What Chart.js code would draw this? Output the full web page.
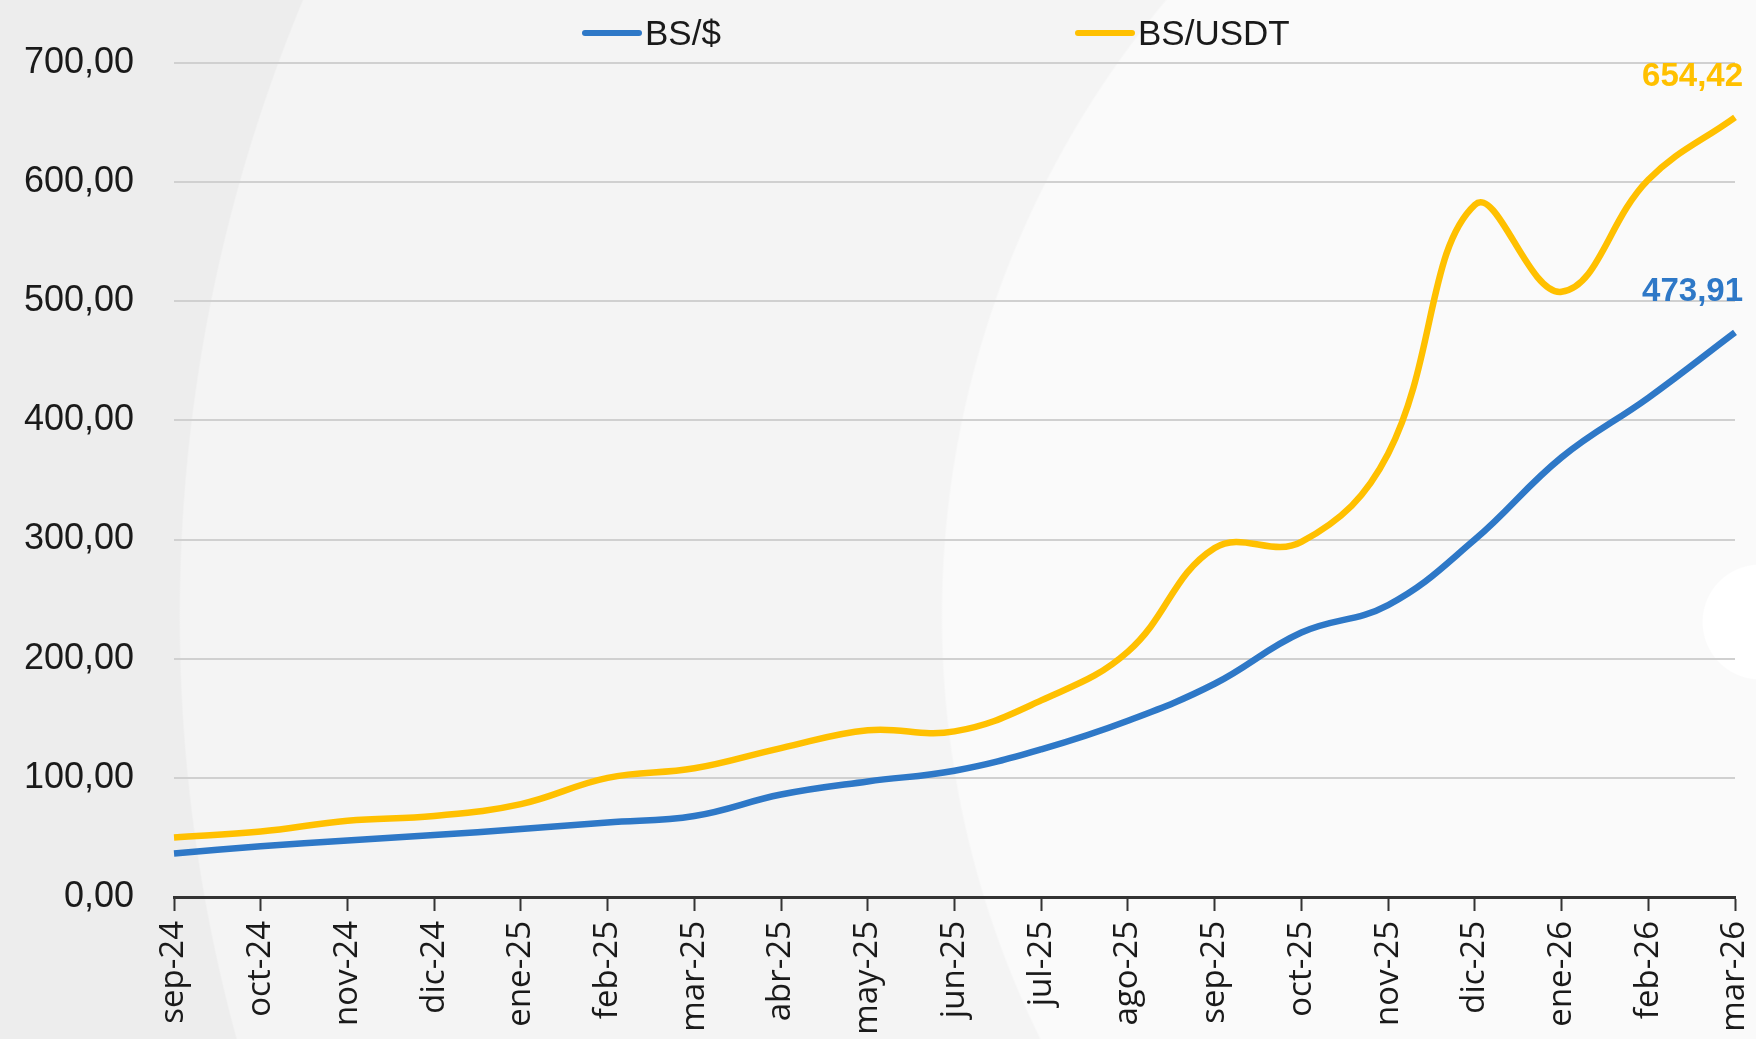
<!DOCTYPE html>
<html>
<head>
<meta charset="utf-8">
<script src="https://cdn.jsdelivr.net/npm/chart.js@4.4.1/dist/chart.umd.min.js"></script>
<style>
  html, body {
    margin: 0;
    padding: 0;
    width: 1756px;
    height: 1039px;
    overflow: hidden;
    background-color: #ededed;
    background-image:
      radial-gradient(circle 58px at 1760px 622px, #ffffff 98%, rgba(255,255,255,0) 100%),
      radial-gradient(circle 959px at 1900px 616px, #fafafa 99.8%, rgba(250,250,250,0) 100%),
      radial-gradient(circle 1602px at 1781px 616px, #f4f4f4 99.9%, rgba(244,244,244,0) 100%);
    background-repeat: no-repeat;
  }
  #wrap {
    position: relative;
    width: 1756px;
    height: 1100px;
  }
  .legend-item {
    position: absolute;
    top: 13px;
    font-family: "Liberation Sans", sans-serif;
    font-size: 35px;
    color: #1a1a1a;
    display: flex;
    align-items: center;
  }
  .legend-item span.swatch {
    display: inline-block;
    width: 60px;
    height: 6px;
    border-radius: 3px;
    margin-right: 3px;
  }
</style>
</head>
<body>
<div id="wrap">
  <canvas id="rateChart"></canvas>
  <div class="legend-item" style="left:582px"><span class="swatch" style="background:#2E78C7"></span>BS/$</div>
  <div class="legend-item" style="left:1075px"><span class="swatch" style="background:#FFC000"></span>BS/USDT</div>
</div>
<script>
const months = ['sep-24','oct-24','nov-24','dic-24','ene-25','feb-25','mar-25','abr-25','may-25',
  'jun-25','jul-25','ago-25','sep-25','oct-25','nov-25','dic-25','ene-26','feb-26','mar-26'];

// tipo de cambio oficial
const bsDolar = [36.6, 42.5, 47.5, 52, 57, 62.5, 68, 86, 97, 106, 124, 148, 179, 222, 245, 300, 369, 419, 473.91];
// tipo de cambio USDT
const bsUsdt = [50, 55, 64, 68, 78, 100, 108, 125, 140, 139, 165, 206, 293, 298, 372, 581, 508, 602, 654.42];

const yTicks = [0, 100, 200, 300, 400, 500, 600, 700];

const fmt = v => v.toFixed(2).replace('.', ',');

// last value labels
const lastLabels = {
  id: 'lastLabels',
  afterDatasetsDraw(chart) {
    const ctx = chart.ctx;
    ctx.save();
    ctx.font = 'bold 33px "Liberation Sans", sans-serif';
    ctx.textAlign = 'right';
    ctx.textBaseline = 'middle';
    chart.data.datasets.forEach((ds, i) => {
      const meta = chart.getDatasetMeta(i);
      const pt = meta.data[meta.data.length - 1];
      ctx.fillStyle = ds.borderColor;
      ctx.fillText(fmt(ds.data[ds.data.length - 1]), chart.chartArea.right + 8, pt.y - 40);
    });
    ctx.restore();
  }
};

const data = {
  labels: months,
  datasets: [
    {
      label: 'BS/$',
      data: bsDolar,
      borderColor: '#2E78C7',
      borderWidth: 6.5,
      pointRadius: 0,
      tension: 0.4,
      fill: false
    },
    {
      label: 'BS/USDT',
      data: bsUsdt,
      borderColor: '#FFC000',
      borderWidth: 6.5,
      pointRadius: 0,
      tension: 0.4,
      fill: false
    }
  ]
};

const config = {
  type: 'line',
  data: data,
  options: {
    responsive: false,
    animation: false,
    layout: { padding: { left: 0, right: 21, top: 63, bottom: 0 } },
    plugins: {
      legend: { display: false },
      tooltip: { enabled: false }
    },
    scales: {
      x: {
        offset: false,
        grid: {
          drawOnChartArea: false,
          drawTicks: true,
          tickLength: 14,
          tickWidth: 2,
          tickColor: '#333'
        },
        border: { color: '#333', width: 3 },
        ticks: {
          minRotation: 90,
          maxRotation: 90,
          padding: 10,
          color: '#1a1a1a',
          font: { family: '"Open Sans", sans-serif', size: 33 }
        },
        afterFit(scale) {
          scale.height = 1100 - 897;
          scale.paddingLeft = 0;
          scale.paddingRight = 0;
        }
      },
      y: {
        min: 0,
        max: 700,
        afterBuildTicks(scale) { scale.ticks = yTicks.map(v => ({ value: v })); },
        grid: { color: '#d0d0d0', lineWidth: 2, drawTicks: false },
        border: { display: false },
        ticks: {
          padding: 40,
          color: '#1a1a1a',
          font: { family: '"Liberation Sans", sans-serif', size: 36 },
          callback: v => fmt(v)
        },
        afterFit(scale) {
          scale.width = 174;
          scale.paddingTop = 0;
          scale.paddingBottom = 0;
        }
      }
    }
  },
  plugins: [lastLabels]
};

const canvas = document.getElementById('rateChart');
canvas.width = 1756;
canvas.height = 1100;
new Chart(canvas, config);
</script>
</body>
</html>
